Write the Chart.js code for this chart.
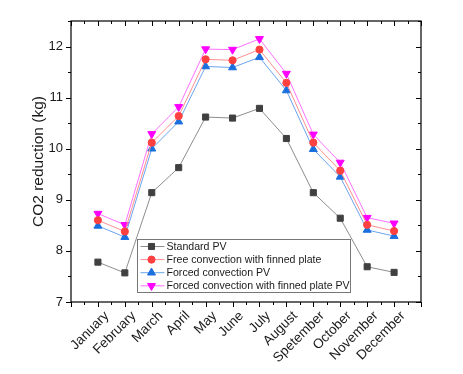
<!DOCTYPE html>
<html>
<head>
<meta charset="utf-8">
<script src="https://cdn.jsdelivr.net/npm/chart.js@4/dist/chart.umd.min.js"></script>
<style>
  html, body { margin: 0; padding: 0; background: #fff; }
</style>
</head>
<body>
<canvas id="chart" width="463" height="374"></canvas>
<script>
// months on the x axis
const months = ['January', 'February', 'March', 'April', 'May', 'June', 'July',
  'August', 'Spetember', 'October', 'November', 'December'];

// CO2 reduction (kg)
const standardPV   = [7.78, 7.57, 9.14, 9.63, 10.62, 10.60, 10.79, 10.20, 9.14, 8.64, 7.69, 7.58];
const freeFinned   = [8.60, 8.38, 10.12, 10.64, 11.75, 11.73, 11.94, 11.29, 10.12, 9.57, 8.51, 8.39];
const forcedPV     = [8.49, 8.27, 10.00, 10.53, 11.61, 11.59, 11.79, 11.14, 9.99, 9.45, 8.41, 8.29];
const forcedFinned = [8.73, 8.51, 10.29, 10.82, 11.95, 11.94, 12.15, 11.47, 10.28, 9.73, 8.65, 8.54];

const yTickLabels = [7, 8, 9, 10, 11, 12];

const textColor = '#1a1a1a';
const fontFamily = '"Liberation Sans", Arial, sans-serif';

function toPoints(arr) {
    return arr.map((v, i) => ({ x: i, y: v }));
}

// axis frame with ticks on all four sides (like Origin)
const framePlugin = {
    id: 'frame',
    afterDraw(chart) {
        const { ctx, chartArea: a, scales } = chart;
        ctx.save();
        ctx.strokeStyle = '#000';
        ctx.lineWidth = 1.2;
        ctx.strokeRect(a.left, a.top, a.right - a.left, a.bottom - a.top);
        ctx.lineWidth = 1;
        ctx.beginPath();
        for (let v = -1; v <= 12.001; v += 0.5) {
            const x = Math.round(scales.x.getPixelForValue(v)) + 0.5;
            const len = Number.isInteger(v) ? 5 : 3;
            ctx.moveTo(x, a.bottom); ctx.lineTo(x, a.bottom + len);
            ctx.moveTo(x, a.top); ctx.lineTo(x, a.top + len);
        }
        for (let v = 7; v <= 12.501; v += 0.5) {
            const y = Math.round(scales.y.getPixelForValue(v)) + 0.5;
            const len = Number.isInteger(v) ? 5 : 3;
            ctx.moveTo(a.left, y); ctx.lineTo(a.left - len, y);
            ctx.moveTo(a.right, y); ctx.lineTo(a.right - len, y);
        }
        ctx.stroke();
        ctx.restore();
    }
};

// boxed legend sitting inside the plot
const legendPlugin = {
    id: 'boxLegend',
    afterDraw(chart) {
        const ctx = chart.ctx;
        const box = { x: 137.5, y: 239.5, w: 213, h: 53 };
        ctx.save();
        ctx.fillStyle = '#fff';
        ctx.fillRect(box.x, box.y, box.w, box.h);
        ctx.strokeStyle = '#777';
        ctx.lineWidth = 1;
        ctx.strokeRect(box.x, box.y, box.w, box.h);
        ctx.font = '10.6px ' + fontFamily;
        ctx.textBaseline = 'middle';
        ctx.textAlign = 'left';
        chart.data.datasets.forEach((ds, i) => {
            const y = box.y + 7 + i * 13.1;
            ctx.strokeStyle = ds.borderColor;
            ctx.lineWidth = 1;
            ctx.beginPath();
            ctx.moveTo(box.x + 3, y);
            ctx.lineTo(box.x + 27, y);
            ctx.stroke();
            ctx.fillStyle = ds.pointBackgroundColor;
            ctx.strokeStyle = ds.pointBorderColor;
            Chart.helpers.drawPoint(ctx, {
                pointStyle: ds.pointStyle,
                radius: ds.pointRadius,
                rotation: ds.pointRotation || 0,
                borderWidth: 1
            }, box.x + 14, y);
            ctx.fillStyle = textColor;
            ctx.fillText(ds.label, box.x + 29, y + 0.5);
        });
        ctx.restore();
    }
};

new Chart(document.getElementById('chart'), {
    type: 'line',
    data: {
        datasets: [
            {
                label: 'Standard PV',
                data: toPoints(standardPV),
                borderColor: '#8c8c8c',
                borderWidth: 1,
                pointStyle: 'rect',
                pointRadius: 4.3,
                pointBackgroundColor: '#404040',
                pointBorderColor: '#404040',
                pointBorderWidth: 1
            },
            {
                label: 'Free convection with finned plate',
                data: toPoints(freeFinned),
                borderColor: '#ff8f8f',
                borderWidth: 1,
                pointStyle: 'circle',
                pointRadius: 3.6,
                pointBackgroundColor: '#ff4040',
                pointBorderColor: '#ff4040',
                pointBorderWidth: 1
            },
            {
                label: 'Forced convection PV',
                data: toPoints(forcedPV),
                borderColor: '#6aa4ee',
                borderWidth: 1,
                pointStyle: 'triangle',
                pointRadius: 4.6,
                pointBackgroundColor: '#1a6fdf',
                pointBorderColor: '#1a6fdf',
                pointBorderWidth: 1
            },
            {
                label: 'Forced convection with finned plate PV',
                data: toPoints(forcedFinned),
                borderColor: '#ff70ff',
                borderWidth: 1,
                pointStyle: 'triangle',
                pointRotation: 180,
                pointRadius: 4.6,
                pointBackgroundColor: '#ff00ff',
                pointBorderColor: '#ff00ff',
                pointBorderWidth: 1
            }
        ]
    },
    options: {
        responsive: false,
        animation: false,
        layout: { padding: { left: 0, right: 42, top: 21, bottom: 0 } },
        plugins: {
            legend: { display: false },
            tooltip: { enabled: false }
        },
        scales: {
            x: {
                type: 'linear',
                min: -1,
                max: 12,
                afterFit: s => { s.height = 72; },
                grid: { display: false, drawTicks: false },
                border: { display: false },
                ticks: {
                    stepSize: 1,
                    autoSkip: false,
                    maxRotation: 45,
                    minRotation: 45,
                    padding: 6,
                    labelOffset: 9,
                    color: textColor,
                    font: { family: fontFamily, size: 13.5 },
                    callback: v => months[v] || ''
                }
            },
            y: {
                min: 7,
                max: 12.5,
                afterFit: s => { s.width = 71; },
                grid: { display: false, drawTicks: false },
                border: { display: false },
                ticks: {
                    stepSize: 1,
                    padding: 8,
                    color: textColor,
                    font: { family: fontFamily, size: 13 },
                    callback: v => yTickLabels.includes(v) ? String(v) : ''
                },
                title: {
                    display: true,
                    text: 'CO2 reduction (kg)',
                    color: textColor,
                    font: { family: fontFamily, size: 15.5 },
                    padding: { top: 29, bottom: 0 }
                }
            }
        }
    },
    plugins: [framePlugin, legendPlugin]
});
</script>
</body>
</html>
